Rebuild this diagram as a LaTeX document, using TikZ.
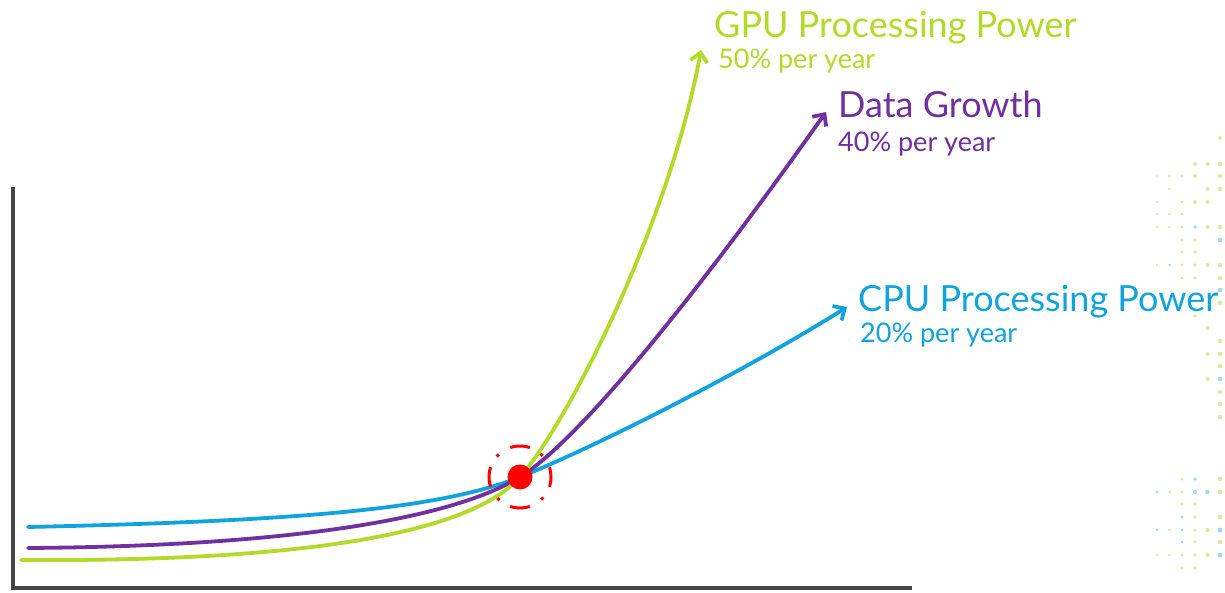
\documentclass[tikz,border=0pt]{standalone}
\usepackage{fontspec}
\setmainfont{Lato}
\usetikzlibrary{arrows.meta}

\definecolor{gpugreen}{RGB}{178,218,40}
\definecolor{datapurple}{RGB}{112,48,160}
\definecolor{cpublue}{RGB}{16,163,224}
\definecolor{axisgray}{RGB}{68,68,68}
\definecolor{dotgreen}{RGB}{218,235,160}
\definecolor{dotblue}{RGB}{160,214,240}
\definecolor{markred}{RGB}{255,0,0}

\tikzset{
  axisline/.style={draw=axisgray, line width=3.6pt, line cap=butt, line join=miter},
  trend/.style={line width=3.8pt, line cap=round},
  tipped/.style={-{Straight Barb[length=9pt,width=17pt,line width=3.8pt]}},
  title/.style={anchor=base west, inner sep=0pt, font=\fontsize{36}{42}\selectfont},
  rate/.style={anchor=base west, inner sep=0pt, font=\fontsize{27}{32}\selectfont},
  dotG/.style={fill=dotgreen},
  dotB/.style={fill=dotblue},
}

\begin{document}
\begin{tikzpicture}[x=1pt,y=-1pt]
\useasboundingbox (0,0) rectangle (1225,593);
\fill[white] (0,0) rectangle (1225,593);

% decorative dot grid on the right edge
\foreach \cx/\cy/\kind/\r in {
  1220/138/G/2,
  1195/164/G/2, 1207.5/164/G/2, 1220/164/G/2.2,
  1157/176/G/1.2, 1169.5/176/G/1.4, 1182/176/G/1.6, 1195/176/G/2, 1220/176/G/2.2,
  1169.5/189/G/1.4, 1207.5/189/G/2, 1220/189/G/2.2,
  1157/202/G/1.2, 1182/202/G/1.6, 1195/202/G/2, 1207.5/202/G/2,
  1157/214/G/1.2, 1169.5/214/G/1.4, 1182/214/G/1.6,
  1157/227/G/1.2, 1169.5/227/G/1.4, 1182/227/G/1.6, 1195/227/B/1.8, 1207.5/227/G/2, 1220/227/G/2.2,
  1182/240/G/1.6, 1195/240/G/1.8, 1220/240/B/2.2,
  1182/252/G/1.6, 1195/252/G/1.8,
  1157/265/G/1.2, 1169.5/265/B/1.3, 1182/265/G/1.6, 1195/265/G/1.8, 1207.5/265/G/2, 1220/265/G/2.2,
  1182/278/G/1.6, 1195/278/G/1.8, 1220/278/G/2.2,
  1220/290/B/2.2,
  1220/303/G/2.2,
  1195/316/G/1.8,
  1207.5/328/G/2,
  1220/341/G/2.2,
  1207.5/354/G/2, 1220/354/G/2.2,
  1220/366/G/2.2,
  1207.5/379/G/2, 1220/379/B/2.2,
  1220/392/G/2.2,
  1220/404/G/2.2,
  1220/417/G/2.2,
  1182/479/G/1.6, 1195/479/B/1.8, 1220/479/G/2.2,
  1157/492/B/1.3, 1169.5/492/G/1.4, 1182/492/G/1.6, 1195/492/B/2, 1207.5/492/B/2.2, 1220/492/G/2.3,
  1182/504/G/1.6, 1195/504/G/1.8,
  1182/517/B/1.6, 1195/517/G/1.8, 1220/517/G/2.3,
  1157/530/B/1.3, 1169.5/530/G/1.4, 1182/530/B/1.7, 1195/530/G/1.9, 1207.5/530/G/2.2, 1220/530/B/2.4,
  1182/542/B/1.6, 1195/542/G/1.8, 1220/542/G/2.3,
  1157/555/G/1.2, 1169.5/555/G/1.4, 1182/555/G/1.6, 1195/555/G/1.9, 1207.5/555/G/2.1, 1220/555/B/2.4,
  1182/568/G/1.6, 1195/568/G/1.8}
  \fill[dot\kind] (\cx,\cy) circle[radius=\r];

% axes
\coordinate (ytop) at (12.7,187);
\coordinate (origin) at (12.7,588);
\coordinate (xend) at (912,588);
\draw[axisline] (ytop) -- (origin) -- (xend);

% crossing point and curve ends
\coordinate (cross) at (520,477);
\coordinate (gstart) at (21,560);
\coordinate (pstart) at (28,548);
\coordinate (bstart) at (28,527);
\coordinate (gtip) at (701,50);
\coordinate (ptip) at (826,112);
\coordinate (btip) at (847,307);

% CPU processing power
\draw[trend, cpublue] (bstart) .. controls (300,521) and (440,509) .. (cross);
\draw[trend, cpublue, tipped] (cross) .. controls (600,445) and (750,368) .. (btip);

% data growth
\draw[trend, datapurple] (pstart) .. controls (300,546) and (455,517) .. (cross);
\draw[trend, datapurple, tipped] (cross) .. controls (580,440) and (700,290) .. (ptip);

% GPU processing power
\draw[trend, gpugreen] (gstart) .. controls (330,562) and (475,528) .. (cross);
\draw[trend, gpugreen, tipped] (cross) .. controls (570,420) and (670,220) .. (gtip);

% highlighted crossing
\draw[markred, line width=3pt, dash pattern=on 20pt off 12.35pt on 3pt off 13.35pt, dash phase=10pt]
  (cross) ++(31,0) arc[start angle=0, end angle=360, radius=31];
\fill[markred] (cross) circle[radius=12.5];

% labels
\node[title, text=gpugreen] (gpulabel) at (714,38) {GPU Processing Power};
\node[rate, text=gpugreen] (gpurate) at (718,69) {50\% per year};
\node[title, text=datapurple] (datalabel) at (838,118) {Data Growth};
\node[rate, text=datapurple] (datarate) at (838,152) {40\% per year};
\node[title, text=cpublue] (cpulabel) at (858,312) {CPU Processing Power};
\node[rate, text=cpublue] (cpurate) at (860,342) {20\% per year};
\end{tikzpicture}
\end{document}
